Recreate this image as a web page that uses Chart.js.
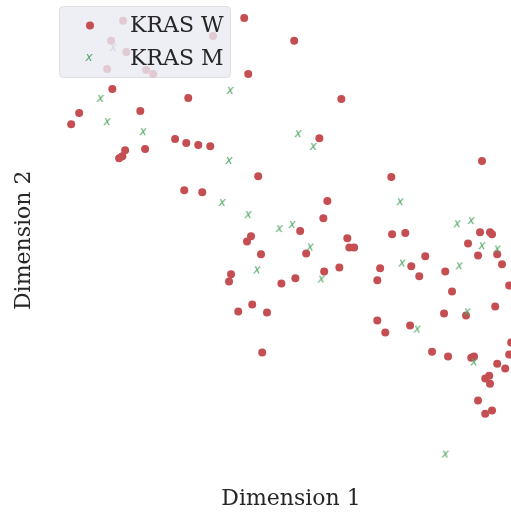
<!DOCTYPE html>
<html>
<head>
<meta charset="utf-8">
<script src="https://cdn.jsdelivr.net/npm/chart.js@4.4.1/dist/chart.umd.min.js"></script>
<style>
  html, body { margin: 0; padding: 0; background: #fff; }
  canvas { display: block; }
</style>
</head>
<body>
<canvas id="chart" width="511" height="517"></canvas>
<script>
const LABELS = ['KRAS W', 'KRAS M'];
const X_TITLE = 'Dimension 1';
const Y_TITLE = 'Dimension 2';

// KRAS W (wild type) embedding coordinates
const wildX = [-3.83, -4.13, -3.75, -4.23, -3.25, -3.08, -1.58, -0.80, -0.70, -4.10,
  -2.20, -4.93, -5.13, -3.40, -2.53, -2.25, -1.95, -1.65, -3.78, -3.85,
  -3.93, -3.28, -0.45, -2.30, -1.85, 0.45, 1.63, 1.08, 5.15, 2.88,
  1.28, 1.18, 0.60, -0.63, -0.73, -0.38, 1.78, 1.83, 1.95, 0.75,
  -1.13, -1.18, 1.20, 1.58, 0.13, 0.48, -0.60, -0.95, -0.23, -0.35,
  5.10, 5.35, 5.40, 2.90, 3.23, 4.80, 5.53, 5.05, 3.73, 2.60,
  3.38, 5.65, 4.23, 3.58, 2.53, 5.83, 4.40, 5.48, 4.20, 4.75,
  2.53, 2.73, 3.35, 5.88, 3.90, 4.30, 4.88, 4.95, 5.83, 5.53,
  5.73, 5.23, 5.33, 5.35, 5.05, 5.40, 5.23];
const wildY = [5.48, 4.98, 4.70, 4.28, 4.25, 4.15, 5.10, 5.55, 4.15, 3.78,
  3.55, 3.18, 2.90, 3.23, 2.53, 2.43, 2.38, 2.35, 2.25, 2.10,
  2.05, 2.28, 1.60, 1.25, 1.20, 4.98, 3.53, 2.55, 1.98, 1.58,
  0.98, 0.55, 0.23, 0.10, -0.03, -0.35, 0.05, -0.18, -0.18, -0.33,
  -0.85, -1.03, -0.78, -0.68, -1.08, -0.95, -1.60, -1.78, -1.80, -2.80,
  0.20, 0.20, 0.15, 0.15, 0.18, -0.08, -0.35, -0.38, -0.40, -0.70,
  -0.65, -0.60, -0.78, -0.90, -1.00, -1.13, -1.28, -1.65, -1.83, -1.88,
  -2.00, -2.30, -2.13, -2.55, -2.78, -2.90, -2.93, -2.90, -2.85, -3.08,
  -3.20, -3.45, -3.38, -3.58, -4.00, -4.25, -4.33];

// KRAS M (mutant) embedding coordinates
const mutX = [-4.08, -4.40, -4.23, -3.33, -1.15, -1.18, -1.35, -0.70, 0.55, 0.93,
  3.10, 0.08, 0.40, 0.85, -0.48, 1.13, 4.53, 4.88, 5.15, 5.53,
  3.15, 4.58, 4.78, 3.53, 4.95, 4.23];
const mutY = [4.80, 3.53, 2.95, 2.70, 3.73, 1.98, 0.93, 0.63, 2.65, 2.33,
  0.95, 0.28, 0.38, -0.18, -0.75, -0.98, 0.40, 0.48, -0.15, -0.23,
  -0.58, -0.65, -1.80, -2.23, -3.05, -5.35];

const RED = '#C44E52';
const GREEN = '#55A868';
const INK = '#262626';
const SERIF = "'DejaVu Serif', 'Liberation Serif', serif";

const pts = (xs, ys) => xs.map((x, i) => ({ x, y: ys[i] }));

// small italic "x" glyph used as the mutant marker
function glyphMarker(char, color) {
  const c = document.createElement('canvas');
  c.width = 12;
  c.height = 12;
  const g = c.getContext('2d');
  g.font = "italic 12px 'DejaVu Sans'";
  g.fillStyle = color;
  g.textAlign = 'center';
  g.textBaseline = 'middle';
  g.fillText(char, 6, 6);
  return c;
}
const xMark = glyphMarker('x', GREEN);

// x title sits off-centre in the original figure, so it is drawn by hand
const xTitle = {
  id: 'xTitle',
  afterDraw(chart) {
    const ctx = chart.ctx;
    ctx.save();
    ctx.font = `22px ${SERIF}`;
    ctx.fillStyle = INK;
    ctx.textAlign = 'center';
    ctx.textBaseline = 'middle';
    ctx.fillText(X_TITLE, 291, 499.5);
    ctx.restore();
  },
};

// legend drawn over the points, like a semi-transparent matplotlib legend
const overLegend = {
  id: 'overLegend',
  afterDatasetsDraw(chart) {
    const ctx = chart.ctx;
    ctx.save();
    ctx.beginPath();
    ctx.roundRect(59.5, 6.5, 171, 71, 4);
    ctx.fillStyle = 'rgba(234, 234, 242, 0.8)';
    ctx.fill();
    ctx.strokeStyle = 'rgba(214, 214, 222, 0.8)';
    ctx.lineWidth = 1;
    ctx.stroke();

    ctx.font = `22px ${SERIF}`;
    ctx.fillStyle = INK;
    ctx.textBaseline = 'alphabetic';
    ctx.fillText(LABELS[0], 130, 32);
    ctx.fillText(LABELS[1], 130, 64.5);

    ctx.beginPath();
    ctx.arc(90, 25.5, 4, 0, Math.PI * 2);
    ctx.fillStyle = RED;
    ctx.fill();
    ctx.drawImage(xMark, 89 - 6, 58 - 6);
    ctx.restore();
  },
};

new Chart(document.getElementById('chart'), {
  type: 'scatter',
  data: {
    datasets: [
      {
        label: LABELS[0],
        data: pts(wildX, wildY),
        pointStyle: 'circle',
        pointRadius: 4,
        backgroundColor: RED,
        borderColor: RED,
        borderWidth: 0,
        order: 1,
      },
      {
        label: LABELS[1],
        data: pts(mutX, mutY),
        pointStyle: xMark,
        pointRadius: 4,
        backgroundColor: GREEN,
        borderColor: GREEN,
        order: 0,
      },
    ],
  },
  options: {
    responsive: false,
    animation: false,
    devicePixelRatio: 1,
    layout: { autoPadding: false, padding: { left: 7, right: 0, top: 0, bottom: 36.4 } },
    plugins: { legend: { display: false }, tooltip: { enabled: false } },
    scales: {
      x: {
        min: -5.875,
        max: 5.875,
        ticks: { display: false },
        grid: { display: false, drawTicks: false },
        border: { display: false },
        title: { display: false },
      },
      y: {
        min: -6,
        max: 6,
        ticks: { display: false },
        grid: { display: false, drawTicks: false },
        border: { display: false },
        title: { display: true, text: Y_TITLE, color: INK, font: { family: SERIF, size: 22 }, padding: 4 },
      },
    },
  },
  plugins: [overLegend, xTitle],
});
</script>
</body>
</html>
